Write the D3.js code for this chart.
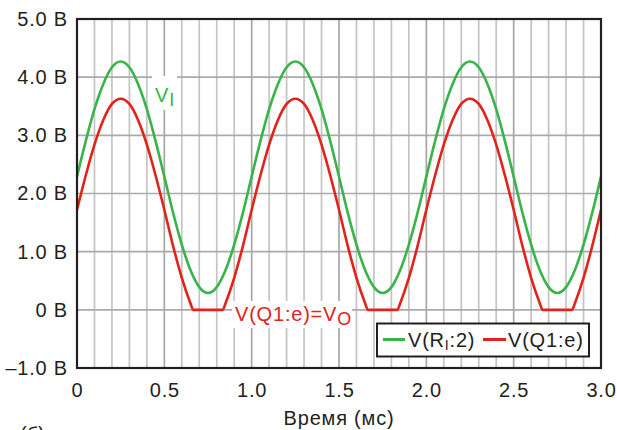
<!DOCTYPE html>
<html>
<head>
<meta charset="utf-8">
<script src="https://cdn.jsdelivr.net/npm/d3@7"></script>
<style>
  html, body { margin: 0; padding: 0; background: #fff; }
  svg { display: block; }
  text { font-family: "Liberation Sans", Arial, Helvetica, sans-serif; }
</style>
</head>
<body>
<svg id="chart" width="617" height="430"></svg>
<script>
// ---------- data ----------
const greenTime = [0.00,0.05,0.10,0.15,0.20,0.25,0.30,0.35,0.40,0.45,0.50,0.55,0.60,0.65,0.70,0.75,0.80,0.85,0.90,0.95,
                   1.00,1.05,1.10,1.15,1.20,1.25,1.30,1.35,1.40,1.45,1.50,1.55,1.60,1.65,1.70,1.75,1.80,1.85,1.90,1.95,
                   2.00,2.05,2.10,2.15,2.20,2.25,2.30,2.35,2.40,2.45,2.50,2.55,2.60,2.65,2.70,2.75,2.80,2.85,2.90,2.95,3.00];
const greenVolts = [2.29,2.90,3.45,3.88,4.17,4.27,4.17,3.88,3.45,2.90,2.29,1.67,1.12,0.68,0.39,0.29,0.39,0.68,1.12,1.67,
                    2.29,2.90,3.45,3.88,4.17,4.27,4.17,3.88,3.45,2.90,2.29,1.67,1.12,0.68,0.39,0.29,0.39,0.68,1.12,1.67,
                    2.29,2.90,3.45,3.88,4.17,4.27,4.17,3.88,3.45,2.90,2.29,1.67,1.12,0.68,0.39,0.29,0.39,0.68,1.12,1.67,2.29];
const redTime = [0.00,0.05,0.10,0.15,0.20,0.25,0.30,0.35,0.40,0.45,0.50,0.55,0.60,0.65,0.665,0.70,0.75,0.80,0.835,0.85,0.90,0.95,
                 1.00,1.05,1.10,1.15,1.20,1.25,1.30,1.35,1.40,1.45,1.50,1.55,1.60,1.65,1.665,1.70,1.75,1.80,1.835,1.85,1.90,1.95,
                 2.00,2.05,2.10,2.15,2.20,2.25,2.30,2.35,2.40,2.45,2.50,2.55,2.60,2.65,2.665,2.70,2.75,2.80,2.835,2.85,2.90,2.95,3.00];
const redVolts = [1.72,2.31,2.84,3.26,3.54,3.63,3.54,3.26,2.84,2.31,1.72,1.10,0.55,0.11,0,0,0,0,0,0.11,0.55,1.10,
                  1.72,2.31,2.84,3.26,3.54,3.63,3.54,3.26,2.84,2.31,1.72,1.10,0.55,0.11,0,0,0,0,0,0.11,0.55,1.10,
                  1.72,2.31,2.84,3.26,3.54,3.63,3.54,3.26,2.84,2.31,1.72,1.10,0.55,0.11,0,0,0,0,0,0.11,0.55,1.10,1.72];
const xTicks = [0, 0.5, 1.0, 1.5, 2.0, 2.5, 3.0];
const xTickLabels = ["0", "0.5", "1.0", "1.5", "2.0", "2.5", "3.0"];
const yTicks = [5, 4, 3, 2, 1, 0, -1];
const yTickLabels = ["5.0 B", "4.0 B", "3.0 B", "2.0 B", "1.0 B", "0 B", "\u20131.0 B"];
const xTitle = "Время (мс)";

// ---------- styling ----------
const GREEN = "#3ab34a", RED = "#e2231a", INK = "#231f20";
const FS = 20, LS = "0.8px";

const svg = d3.select("#chart");
const x = d3.scaleLinear().domain([0, 3]).range([77, 601]);
const y = d3.scaleLinear().domain([-1, 5]).range([368, 19]);

// grid
const g = svg.append("g");
const minor = d3.range(0, 31).map(i => i / 10);
g.selectAll("line.v").data(minor).join("line")
  .attr("x1", d => x(d)).attr("x2", d => x(d))
  .attr("y1", y(5)).attr("y2", y(-1))
  .attr("stroke", (d, i) => i % 5 === 0 ? "#a6a6a6" : "#c4c4c4")
  .attr("stroke-width", 1.7);
g.selectAll("line.h").data(yTicks).join("line")
  .attr("x1", x(0)).attr("x2", x(3))
  .attr("y1", d => y(d)).attr("y2", d => y(d))
  .attr("stroke", "#aaaaaa").attr("stroke-width", 1.7);

// series
const line = d3.line().curve(d3.curveMonotoneX).x(d => x(d[0])).y(d => y(d[1]));
const greenData = greenTime.map((t, i) => [t, greenVolts[i]]);
const redData = redTime.map((t, i) => [t, redVolts[i]]);
svg.append("path").datum(greenData).attr("d", line)
  .attr("fill", "none").attr("stroke", GREEN).attr("stroke-width", 2.6);
svg.append("path").datum(redData).attr("d", line)
  .attr("fill", "none").attr("stroke", RED).attr("stroke-width", 2.6);

// annotations
svg.append("rect").attr("x", 152).attr("y", 76).attr("width", 25).attr("height", 34).attr("fill", "#fff");
const a1 = svg.append("text").attr("x", 155).attr("y", 101.5).attr("fill", GREEN)
  .attr("font-size", FS).style("letter-spacing", LS);
a1.append("tspan").text("V");
a1.append("tspan").attr("font-size", 18).attr("dy", 4).text("I");

svg.append("rect").attr("x", 232).attr("y", 301).attr("width", 120).attr("height", 27).attr("fill", "#fff");
const a2 = svg.append("text").attr("x", 235).attr("y", 320.5).attr("fill", RED)
  .attr("font-size", FS).style("letter-spacing", LS);
a2.append("tspan").text("V(Q1:e)=V");
a2.append("tspan").attr("font-size", 18).attr("dy", 4.5).text("O");

// legend
svg.append("rect").attr("x", 377).attr("y", 323.5).attr("width", 212).attr("height", 33)
  .attr("fill", "#fff").attr("stroke", INK).attr("stroke-width", 2);
svg.append("line").attr("x1", 383).attr("x2", 405).attr("y1", 339.5).attr("y2", 339.5)
  .attr("stroke", GREEN).attr("stroke-width", 3);
const l1 = svg.append("text").attr("x", 408).attr("y", 347).attr("fill", INK)
  .attr("font-size", FS).style("letter-spacing", LS);
l1.append("tspan").text("V(R");
l1.append("tspan").attr("font-size", 14).attr("dy", 3).text("I");
l1.append("tspan").attr("dy", -3).text(":2)");
svg.append("line").attr("x1", 483).attr("x2", 506).attr("y1", 339.5).attr("y2", 339.5)
  .attr("stroke", RED).attr("stroke-width", 3);
svg.append("text").attr("x", 508).attr("y", 347).attr("fill", INK)
  .attr("font-size", FS).style("letter-spacing", LS).text("V(Q1:e)");

// frame
svg.append("rect").attr("x", x(0)).attr("y", y(5)).attr("width", x(3) - x(0)).attr("height", y(-1) - y(5))
  .attr("fill", "none").attr("stroke", INK).attr("stroke-width", 2.2);

// axes
const yAxis = svg.append("g").attr("transform", `translate(${x(0)},0)`)
  .call(d3.axisLeft(y).tickValues(yTicks).tickFormat((d, i) => yTickLabels[i]).tickSize(0).tickPadding(9));
const xAxis = svg.append("g").attr("transform", `translate(0,${y(-1)})`)
  .call(d3.axisBottom(x).tickValues(xTicks).tickFormat((d, i) => xTickLabels[i]).tickSize(0).tickPadding(14.5));
[yAxis, xAxis].forEach(a => {
  a.select(".domain").remove();
  a.selectAll("text").attr("font-size", FS).attr("fill", INK)
    .attr("font-family", "'Liberation Sans', Arial, sans-serif").style("letter-spacing", LS);
});

svg.append("text").attr("x", (x(0) + x(3)) / 2).attr("y", 425).attr("text-anchor", "middle")
  .attr("font-size", FS).attr("fill", INK).style("letter-spacing", LS).text(xTitle);
svg.append("text").attr("x", 20).attr("y", 441).attr("font-size", FS).attr("fill", INK).text("(б)");
</script>
</body>
</html>
